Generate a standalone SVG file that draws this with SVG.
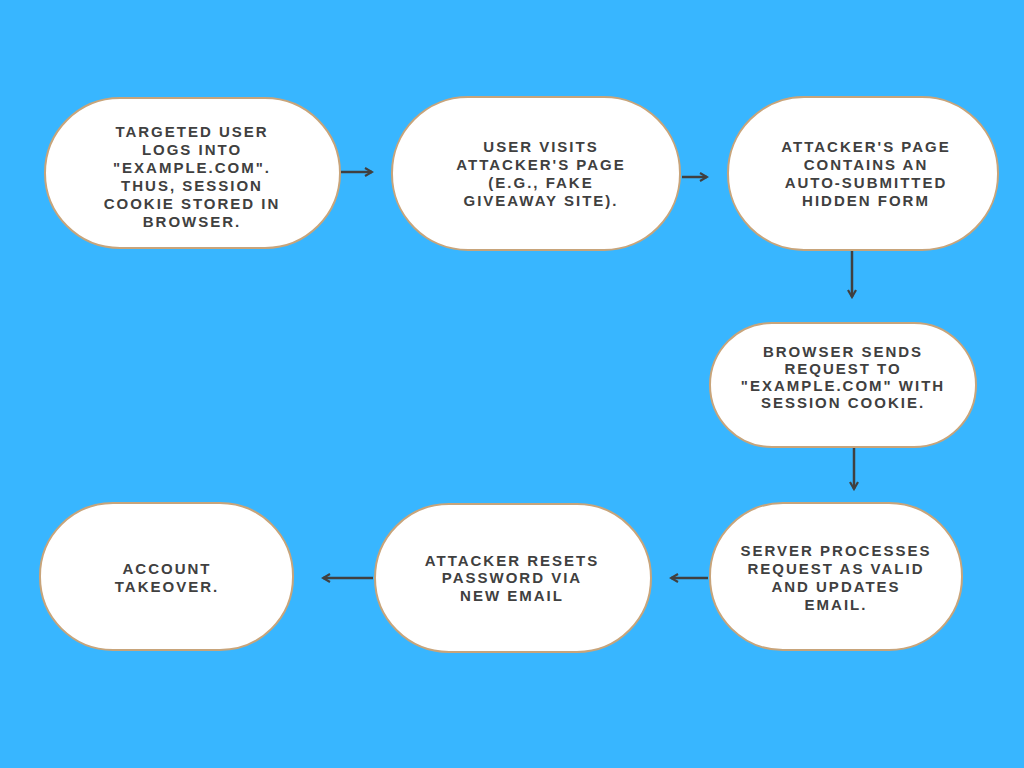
<svg xmlns="http://www.w3.org/2000/svg" width="1024" height="768" viewBox="0 0 1024 768">
<defs>
<style>
.n{fill:#fff;stroke:#c8a47a;stroke-width:2}
.t{font-family:"Liberation Sans",Arial,sans-serif;font-weight:bold;font-size:15px;letter-spacing:2px;fill:#404040;text-anchor:middle}
.c{stroke:#404040;stroke-width:2.5;fill:none;marker-end:url(#a)}
</style>
<marker id="a" viewBox="0 0 10 10" refX="8" refY="5" markerWidth="4" markerHeight="4" orient="auto"><path d="M1,1L8,5L1,9" fill="none" stroke="#404040" stroke-width="2.2"/></marker>
</defs>
<rect width="1024" height="768" fill="#38b6ff"/>
<g id="connectors">
<path class="c" d="M341,172H372"/>
<path class="c" d="M682,177H707"/>
<path class="c" d="M852,251V297"/>
<path class="c" d="M854,448V489"/>
<path class="c" d="M708,578H671"/>
<path class="c" d="M373,578H323"/>
</g>
<g id="n1"><rect class="n" x="45" y="98" width="295" height="150" rx="75"/>
<text class="t"><tspan x="192" y="137">TARGETED USER</tspan><tspan x="192" y="155">LOGS INTO</tspan><tspan x="192" y="173">"EXAMPLE.COM".</tspan><tspan x="192" y="191">THUS, SESSION</tspan><tspan x="192" y="209">COOKIE STORED IN</tspan><tspan x="192" y="227">BROWSER.</tspan></text></g>
<g id="n2"><rect class="n" x="392" y="97" width="288" height="153" rx="76"/>
<text class="t"><tspan x="541" y="152">USER VISITS</tspan><tspan x="541" y="170">ATTACKER'S PAGE</tspan><tspan x="541" y="188">(E.G., FAKE</tspan><tspan x="541" y="206">GIVEAWAY SITE).</tspan></text></g>
<g id="n3"><rect class="n" x="728" y="97" width="270" height="153" rx="76"/>
<text class="t"><tspan x="866" y="152">ATTACKER'S PAGE</tspan><tspan x="866" y="170">CONTAINS AN</tspan><tspan x="866" y="188">AUTO-SUBMITTED</tspan><tspan x="866" y="206">HIDDEN FORM</tspan></text></g>
<g id="n4"><rect class="n" x="710" y="323" width="266" height="124" rx="62"/>
<text class="t"><tspan x="843" y="357">BROWSER SENDS</tspan><tspan x="843" y="374">REQUEST TO</tspan><tspan x="843" y="391">"EXAMPLE.COM" WITH</tspan><tspan x="843" y="408">SESSION COOKIE.</tspan></text></g>
<g id="n5"><rect class="n" x="710" y="503" width="252" height="147" rx="73"/>
<text class="t"><tspan x="836" y="556">SERVER PROCESSES</tspan><tspan x="836" y="574">REQUEST AS VALID</tspan><tspan x="836" y="592">AND UPDATES</tspan><tspan x="836" y="610">EMAIL.</tspan></text></g>
<g id="n6"><rect class="n" x="375" y="504" width="276" height="148" rx="74"/>
<text class="t"><tspan x="512" y="566">ATTACKER RESETS</tspan><tspan x="512" y="583">PASSWORD VIA</tspan><tspan x="512" y="601">NEW EMAIL</tspan></text></g>
<g id="n7"><rect class="n" x="40" y="503" width="253" height="147" rx="73"/>
<text class="t"><tspan x="167" y="574">ACCOUNT</tspan><tspan x="167" y="592">TAKEOVER.</tspan></text></g>
</svg>
